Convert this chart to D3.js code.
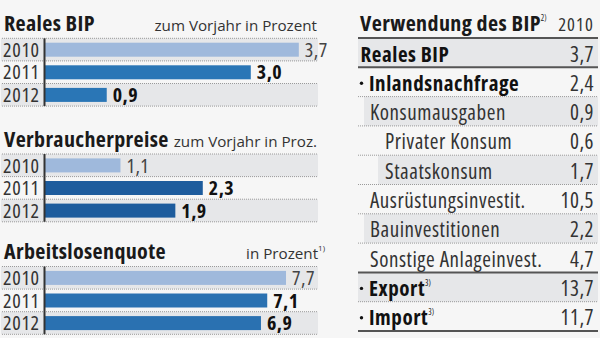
<!DOCTYPE html>
<html><head><meta charset="utf-8">
<script src="https://cdn.jsdelivr.net/npm/d3@7"></script>
<style>
html,body{margin:0;padding:0;background:#f6f6f6;}
svg{display:block;font-family:"Open Sans",sans-serif;font-stretch:75%;}
</style></head>
<body>
<svg id="chart" width="600" height="338"></svg>
<script>
// ---- data ----
const years = ["2010", "2011", "2012"];
const bipValues = [3.7, 3.0, 0.9];
const cpiValues = [1.1, 2.3, 1.9];
const unemploymentValues = [7.7, 7.1, 6.9];
const panelTitles = ["Reales BIP", "Verbraucherpreise", "Arbeitslosenquote"];
const panelSubtitles = ["zum Vorjahr in Prozent", "zum Vorjahr in Proz.", "in Prozent"];
const panelNotes = ["", "", "1)"];
const tableTitle = "Verwendung des BIP";
const tableTitleNote = "2)";
const tableYear = "2010";
const useLabels = ["Reales BIP", "Inlandsnachfrage", "Konsumausgaben", "Privater Konsum", "Staatskonsum",
  "Ausrüstungsinvestit.", "Bauinvestitionen", "Sonstige Anlageinvest.", "Export", "Import"];
const useValues = [3.7, 2.4, 0.9, 0.6, 1.7, 10.5, 2.2, 4.7, 13.7, 11.7];
const useNotes = ["", "", "", "", "", "", "", "", "3)", "3)"];

const fmt = v => d3.format(".1f")(v).replace(".", ",");
const svg = d3.select("#chart");

// ---- left bar panels ----
const panels = [
  {values: bipValues, top: 38.3, domainMax: 4, rangeLen: 274.4, dark: "#2a76b6"},
  {values: cpiValues, top: 154, domainMax: 4, rangeLen: 274.4, dark: "#1d5c9d"},
  {values: unemploymentValues, top: 266.5, domainMax: 8, rangeLen: 250.4, dark: "#2a71b1"}
];
const lightBar = "#9fb9dc";
const rowGrey = "#e6e7e9";

panels.forEach((p, pi) => {
  const g = svg.append("g");
  const y = d3.scaleBand().domain(years).range([p.top, p.top + 67.8]);
  const x = d3.scaleLinear().domain([0, p.domainMax]).range([45, 45 + p.rangeLen]);

  g.selectAll("rect.bg").data(years.filter((d, i) => i % 2 === 0)).join("rect")
    .attr("x", 1).attr("width", 317).attr("y", d => y(d)).attr("height", y.bandwidth())
    .attr("fill", rowGrey);
  const bounds = years.map(d => y(d)).concat([y(years[years.length - 1]) + y.bandwidth()]);
  g.selectAll("line.sep").data(bounds).join("line")
    .attr("x1", 2).attr("x2", 318).attr("y1", d => d).attr("y2", d => d)
    .attr("stroke", "#9a9a9a").attr("stroke-width", 1).attr("stroke-dasharray", "1,1");
  g.append("text").attr("x", 4).attr("y", p.top - 7.5)
    .attr("font-size", 22).attr("font-weight", "bold").attr("fill", "#1a1a1a")
    .attr("letter-spacing", 0.35)
    .text(panelTitles[pi]);
  const sub = g.append("text").attr("x", pi === 2 ? 325 : 317).attr("y", p.top - 7.5)
    .attr("text-anchor", "end").attr("font-size", 15.2).attr("fill", "#333")
    .style("font-stretch", "100%");
  sub.append("tspan").text(panelSubtitles[pi]);
  if (panelNotes[pi]) sub.append("tspan").attr("font-size", 8).attr("dy", -8).text(panelNotes[pi]);

  g.selectAll("rect.bar").data(p.values).join("rect")
    .attr("x", x(0)).attr("y", (d, i) => y(years[i]) + 4.4)
    .attr("width", d => x(d) - x(0)).attr("height", 14)
    .attr("fill", (d, i) => i === 0 ? lightBar : p.dark);
  g.selectAll("text.yr").data(years).join("text")
    .attr("x", 3).attr("y", d => y(d) + 18.5)
    .attr("font-size", 20).attr("letter-spacing", 0.7).attr("fill", "#333").text(d => d);
  g.selectAll("text.val").data(p.values).join("text")
    .attr("x", d => x(d) + 6).attr("y", (d, i) => y(years[i]) + 18.5)
    .attr("font-size", 20).attr("letter-spacing", 0.5)
    .attr("font-weight", (d, i) => i === 0 ? "normal" : "bold")
    .attr("fill", (d, i) => i === 0 ? "#444" : "#111")
    .text(d => fmt(d));
  g.append("line").attr("x1", 44.5).attr("x2", 44.5)
    .attr("y1", p.top).attr("y2", p.top + 67.8)
    .attr("stroke", "#333").attr("stroke-width", 2);
});

// ---- right table ----
const level = [0, 0, 1, 2, 2, 1, 1, 1, 0, 0];
const bulleted = [false, true, false, false, false, false, false, false, true, true];
const boldRow = [true, true, false, false, false, false, false, false, true, true];
const solidAfter = new Set([0, 7, 9]);
const tTop = 38, tLeft = 358, tRight = 598;
const ry = d3.scaleBand().domain(d3.range(useLabels.length)).range([tTop, tTop + 293]);
const bgStart = [358, 364, 378];
const textStart = [360.5, 370, 385];
const tg = svg.append("g");

tg.selectAll("rect.tbg").data(d3.range(useLabels.length).filter(i => i % 2 === 0)).join("rect")
  .attr("x", i => bgStart[level[i]]).attr("width", i => tRight - bgStart[level[i]])
  .attr("y", i => ry(i)).attr("height", ry.bandwidth()).attr("fill", rowGrey);

const tt = tg.append("text").attr("x", 360).attr("y", 30.7)
  .attr("font-size", 22).attr("font-weight", "bold").attr("fill", "#1a1a1a")
  .attr("letter-spacing", 0.4);
tt.append("tspan").text(tableTitle);
tt.append("tspan").attr("font-size", 8).attr("font-weight", "normal").attr("dy", -10)
  .attr("letter-spacing", 0).text(tableTitleNote);
tg.append("text").attr("x", 594).attr("y", 30.7).attr("text-anchor", "end")
  .attr("font-size", 18.5).attr("letter-spacing", 1.1).attr("fill", "#333").text(tableYear);

tg.append("line").attr("x1", tLeft).attr("x2", tRight).attr("y1", tTop).attr("y2", tTop)
  .attr("stroke", "#555").attr("stroke-width", 2);
tg.selectAll("line.tsep").data(d3.range(useLabels.length)).join("line")
  .attr("x1", tLeft).attr("x2", tRight)
  .attr("y1", i => ry(i) + ry.bandwidth()).attr("y2", i => ry(i) + ry.bandwidth())
  .attr("stroke", i => solidAfter.has(i) ? "#555" : "#9a9a9a")
  .attr("stroke-width", i => solidAfter.has(i) ? 2 : 1)
  .attr("stroke-dasharray", i => solidAfter.has(i) ? null : "1,1");

tg.selectAll("circle.bul").data(d3.range(useLabels.length).filter(i => bulleted[i])).join("circle")
  .attr("cx", 361.5).attr("cy", i => ry(i) + 16).attr("r", 1.7).attr("fill", "#111");

const lab = tg.selectAll("text.lab").data(useLabels).join("text")
  .attr("x", (d, i) => bulleted[i] ? 369 : textStart[level[i]])
  .attr("y", (d, i) => ry(i) + 23.5)
  .attr("font-size", 21).attr("letter-spacing", 0.55)
  .attr("font-weight", (d, i) => boldRow[i] ? "bold" : "normal")
  .attr("fill", (d, i) => boldRow[i] ? "#111" : "#333");
lab.append("tspan").text(d => d);
lab.each(function(d, i) {
  if (useNotes[i]) d3.select(this).append("tspan").attr("font-size", 8).attr("font-weight", "normal")
    .attr("letter-spacing", 0).attr("dy", -10).text(useNotes[i]);
});

tg.selectAll("text.tv").data(useValues).join("text")
  .attr("x", 594).attr("y", (d, i) => ry(i) + 23.5).attr("text-anchor", "end")
  .attr("font-size", 21).attr("letter-spacing", 0.5).attr("fill", "#333").text(d => fmt(d));
</script>
</body></html>
